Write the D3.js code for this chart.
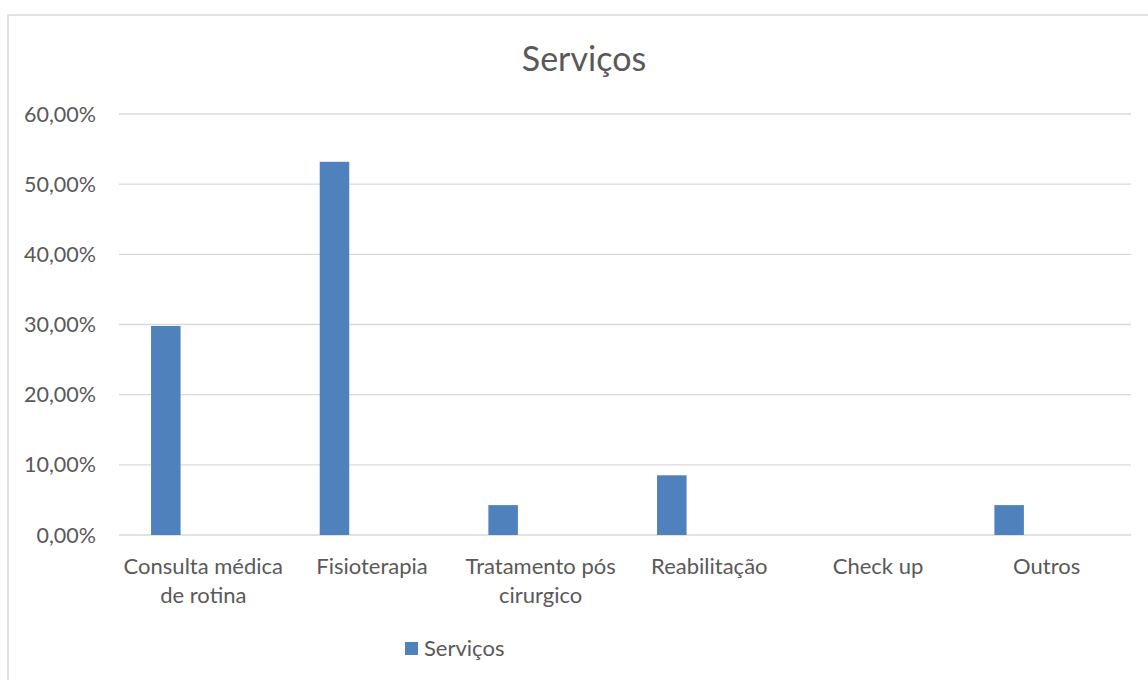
<!DOCTYPE html>
<html>
<head>
<meta charset="utf-8">
<script src="https://cdn.jsdelivr.net/npm/d3@7"></script>
<style>
  body { margin: 0; background: #fff; }
  text { font-family: Lato, "Open Sans", sans-serif; fill: #595959; }
</style>
</head>
<body>
<script>
const categories = ["Consulta médica|de rotina", "Fisioterapia", "Tratamento pós|cirurgico", "Reabilitação", "Check up", "Outros"];
const values = [0.2979, 0.5319, 0.0426, 0.0851, 0, 0.0426];
const yTicks = [0, 0.1, 0.2, 0.3, 0.4, 0.5, 0.6];
const seriesName = "Serviços";

const width = 1148, height = 680;
const margin = { left: 119, right: 17, top: 114, bottom: 145 };
const fs = 22;

const svg = d3.select("body").append("svg")
    .attr("width", width)
    .attr("height", height);

// chart frame
svg.append("rect")
    .attr("x", 8).attr("y", 15)
    .attr("width", width + 10).attr("height", height)
    .attr("fill", "none")
    .attr("stroke", "#d9d9d9")
    .attr("stroke-width", 1.5);

const x = d3.scaleBand()
    .domain(categories)
    .range([margin.left, width - margin.right]);

const y = d3.scaleLinear()
    .domain([0, 0.6])
    .range([height - margin.bottom, margin.top]);

const fmt = v => d3.format(".2f")(v * 100).replace(".", ",") + "%";

// gridlines
svg.append("g")
    .selectAll("line")
    .data(yTicks)
    .join("line")
    .attr("x1", margin.left)
    .attr("x2", width - margin.right)
    .attr("y1", d => y(d))
    .attr("y2", d => y(d))
    .attr("stroke", "#d9d9d9")
    .attr("stroke-width", 1.3);

// y labels
svg.append("g")
    .selectAll("text")
    .data(yTicks)
    .join("text")
    .attr("x", 96)
    .attr("y", d => y(d))
    .attr("dy", "0.35em")
    .attr("text-anchor", "end")
    .attr("font-size", 21.5)
    .text(fmt);

// bars
const bw = x.bandwidth();
svg.append("g")
    .selectAll("rect")
    .data(values)
    .join("rect")
    .attr("x", (d, i) => x(categories[i]) + bw * 0.19)
    .attr("width", bw * 0.175)
    .attr("y", d => y(d))
    .attr("height", d => y(0) - y(d))
    .attr("fill", "#4f81bd");

// x labels
const xl = svg.append("g")
    .selectAll("text")
    .data(categories)
    .join("text")
    .attr("x", d => x(d) + bw / 2)
    .attr("y", 574)
    .attr("text-anchor", "middle")
    .attr("font-size", fs);

xl.each(function(d) {
    const lines = d.split("|");
    d3.select(this).selectAll("tspan")
        .data(lines)
        .join("tspan")
        .attr("x", x(d) + bw / 2)
        .attr("dy", (l, i) => i === 0 ? 0 : 29)
        .text(l => l);
});

// title
svg.append("text")
    .attr("x", 584)
    .attr("y", 71)
    .attr("text-anchor", "middle")
    .attr("font-size", 34)
    .text("Serviços");

// legend
svg.append("rect")
    .attr("x", 405).attr("y", 642)
    .attr("width", 13).attr("height", 13)
    .attr("fill", "#4f81bd");

svg.append("text")
    .attr("x", 424)
    .attr("y", 656)
    .attr("font-size", fs)
    .text(seriesName);
</script>
</body>
</html>
